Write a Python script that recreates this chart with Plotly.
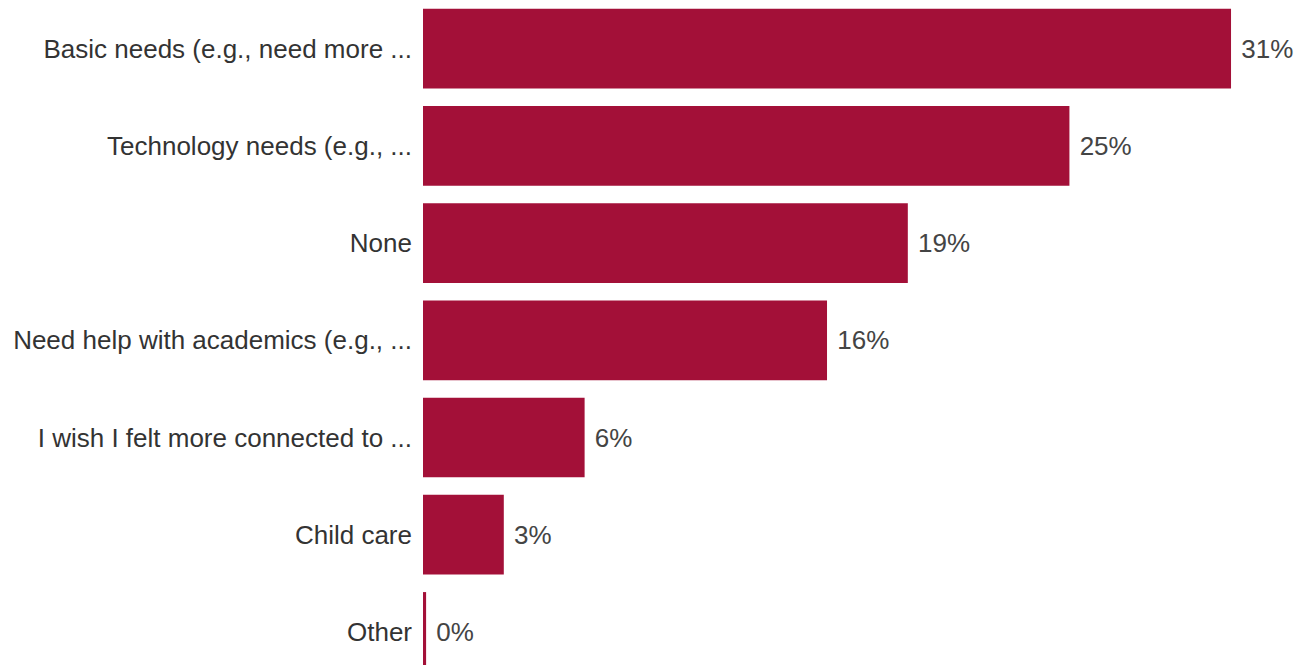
import plotly.graph_objects as go

categories = [
    "Basic needs (e.g., need more ...",
    "Technology needs (e.g., ...",
    "None",
    "Need help with academics (e.g., ...",
    "I wish I felt more connected to ...",
    "Child care",
    "Other",
]
counts = [10, 8, 6, 5, 2, 1, 0]
total = 32
pct = [c / total * 100 for c in counts]
labels = [f" {round(p):.0f}%" for p in pct]

# tiny visible stub for zero-valued bars (style only)
display = [max(p, 0.12) for p in pct]

FONT = "Liberation Sans, Arial, sans-serif"

fig = go.Figure(
    go.Bar(
        x=display,
        y=categories,
        orientation="h",
        marker=dict(color="#A31038", line=dict(width=0)),
        text=labels,
        textposition="outside",
        textfont=dict(size=26, color="#444444", family=FONT),
        cliponaxis=False,
        width=0.82,
    )
)

fig.update_layout(
    width=1298,
    height=665,
    margin=dict(l=423, r=0, t=0, b=0),
    plot_bgcolor="white",
    paper_bgcolor="white",
    showlegend=False,
    font=dict(family=FONT, size=26, color="#333333"),
    xaxis=dict(range=[0, 33.84], visible=False, fixedrange=True),
    yaxis=dict(
        type="category",
        categoryorder="array",
        categoryarray=categories,
        range=[6.34, -0.5],
        showgrid=False,
        zeroline=False,
        showline=False,
        ticks="",
        ticklabelstandoff=10,
        tickfont=dict(size=26, color="#333333", family=FONT),
    ),
    bargap=0.18,
)

fig.write_html("out.html")
